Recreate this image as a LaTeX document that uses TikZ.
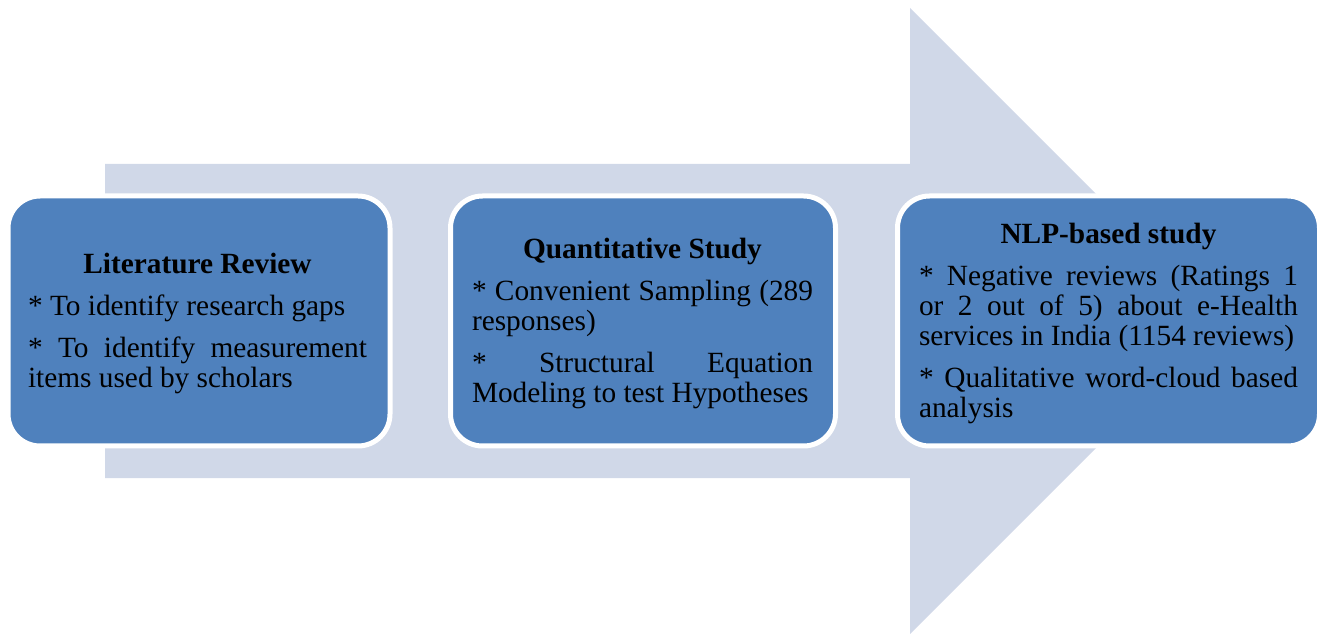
\documentclass[tikz,border=0pt]{standalone}
\usepackage{fontspec}
\setmainfont{Liberation Serif}
\definecolor{boxblue}{HTML}{4F81BD}
\definecolor{arrowfill}{HTML}{D0D8E8}
\tikzset{
  stagebox/.style={draw=white, line width=3.75pt, fill=boxblue, rounded corners=24pt},
  stagetext/.style={anchor=north, inner sep=0pt, text=black,
    font=\fontsize{22}{22.5}\selectfont},
  bigarrow/.style={fill=arrowfill, draw=none},
}
\newlength\colw
\newcommand{\jline}[1]{\hbox to \colw{\spaceskip=0.25em plus 1fil\relax #1}}
\newcommand{\nline}[1]{\hbox to \colw{#1\hfil}}
\newcommand{\stagehead}[1]{\hbox to \colw{\hfil\bfseries #1\hfil}\vskip 9pt\relax}
\newcommand{\itemgap}{\vskip 9pt\relax}
\begin{document}
\begin{tikzpicture}[x=0.75pt,y=-0.75pt]
\useasboundingbox (0,0) rectangle (1321,634);
% big background arrow
\path[bigarrow] (105,164) -- (910,164) -- (910,8) -- (1223,321) -- (910,634) -- (910,478) -- (105,478) -- cycle;
% boxes
\draw[stagebox] (8,196) rectangle (390,446);
\draw[stagebox] (450.5,196) rectangle (835.5,446);
\draw[stagebox] (897.5,196) rectangle (1319.5,446);
% texts
\node[stagetext] (lit) at (197.5,253) {\vbox{%
  \colw=254.25pt\hsize=\colw
  \stagehead{Literature Review}
  \nline{* To identify research gaps}
  \itemgap
  \jline{* To identify measurement}
  \nline{items used by scholars}}};
\node[stagetext] (quant) at (642.5,238) {\vbox{%
  \colw=255.75pt\hsize=\colw
  \stagehead{Quantitative Study}
  \jline{* Convenient Sampling (289}
  \nline{responses)}
  \itemgap
  \jline{* Structural Equation}
  \nline{Modeling to test Hypotheses}}};
\node[stagetext] (nlp) at (1108.5,223) {\vbox{%
  \colw=284.25pt\hsize=\colw
  \stagehead{NLP-based study}
  \jline{* Negative reviews (Ratings 1}
  \jline{or 2 out of 5) about e-Health}
  \nline{services in India (1154 reviews)}
  \itemgap
  \jline{* Qualitative word-cloud based}
  \nline{analysis}}};
\end{tikzpicture}
\end{document}
